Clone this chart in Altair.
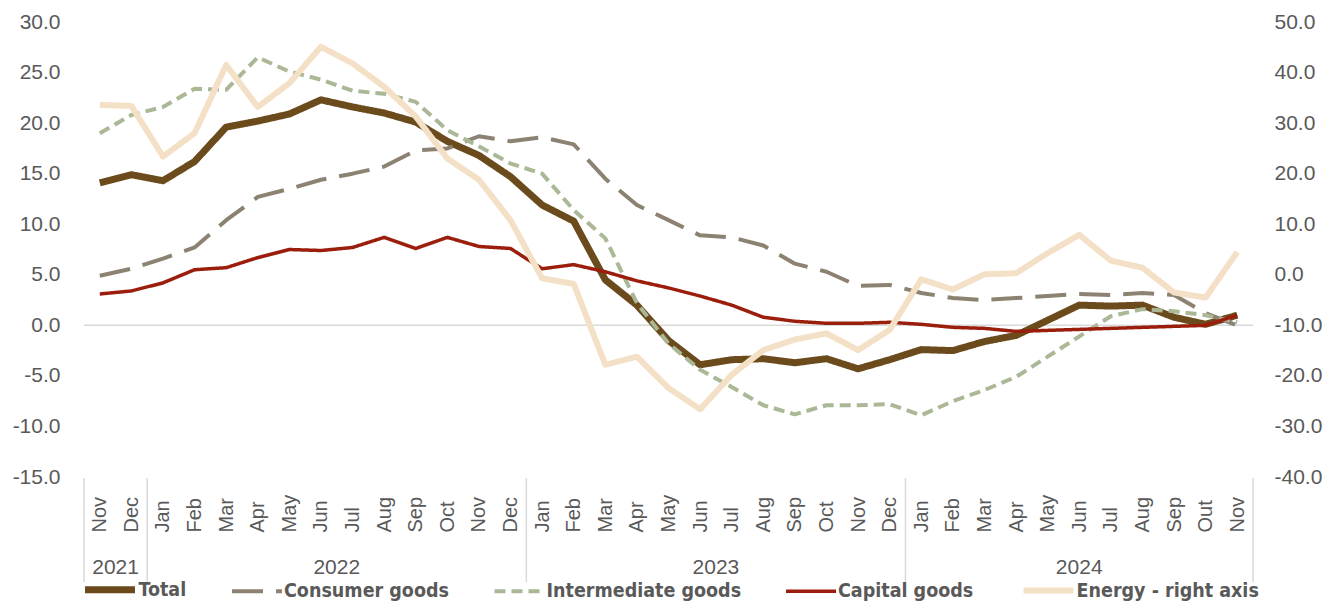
import altair as alt
import pandas as pd

months = ["Nov", "Dec",
          "Jan", "Feb", "Mar", "Apr", "May", "Jun", "Jul", "Aug", "Sep", "Oct", "Nov", "Dec",
          "Jan", "Feb", "Mar", "Apr", "May", "Jun", "Jul", "Aug", "Sep", "Oct", "Nov", "Dec",
          "Jan", "Feb", "Mar", "Apr", "May", "Jun", "Jul", "Aug", "Sep", "Out", "Nov"]
years = ["2021", "2022", "2023", "2024"]
year_centers = [0.5, 7.5, 19.5, 31.0]
year_bounds = [-0.5, 1.5, 13.5, 25.5, 36.5]

total = [14.1, 14.9, 14.3, 16.2, 19.6, 20.2, 20.9, 22.3, 21.6, 21.0, 20.1, 18.2, 16.8, 14.7,
         11.9, 10.3, 4.5, 2.0, -1.5, -3.9, -3.4, -3.3, -3.7, -3.3, -4.3, -3.4,
         -2.4, -2.5, -1.6, -1.0, 0.5, 2.0, 1.9, 2.0, 0.8, 0.1, 1.0]
consumer = [4.9, 5.6, 6.6, 7.7, 10.4, 12.7, 13.5, 14.4, 15.0, 15.7, 17.3, 17.5, 18.7, 18.2,
            18.6, 17.9, 14.5, 11.9, 10.4, 8.9, 8.7, 7.9, 6.1, 5.3, 3.9, 4.0,
            3.2, 2.7, 2.5, 2.7, 2.9, 3.1, 3.0, 3.2, 3.0, 1.2, 0.0]
intermediate = [19.0, 20.8, 21.6, 23.4, 23.3, 26.5, 25.1, 24.3, 23.2, 22.9, 22.1, 19.3, 17.7, 16.0,
                15.0, 11.4, 8.6, 2.2, -1.8, -4.4, -6.1, -7.9, -8.8, -7.9, -7.9, -7.8,
                -8.9, -7.5, -6.4, -5.1, -3.1, -1.1, 0.9, 1.6, 1.4, 1.0, 0.3]
capital = [3.1, 3.4, 4.2, 5.5, 5.7, 6.7, 7.5, 7.4, 7.7, 8.7, 7.6, 8.7, 7.8, 7.6,
           5.6, 6.0, 5.3, 4.4, 3.7, 2.9, 2.0, 0.8, 0.4, 0.2, 0.2, 0.3,
           0.1, -0.2, -0.3, -0.6, -0.5, -0.4, -0.3, -0.2, -0.1, 0.0, 1.0]
energy = [33.6, 33.4, 23.4, 28.0, 41.5, 33.2, 37.9, 45.1, 41.8, 37.2, 31.3, 23.0, 18.8, 10.8,
          -0.7, -1.8, -17.8, -16.2, -22.4, -26.6, -19.8, -14.9, -12.8, -11.6, -14.9, -10.9,
          -0.9, -2.9, 0.1, 0.3, 4.3, 7.9, 2.8, 1.4, -3.5, -4.5, 4.5]

series_names = ["Total", "Consumer goods", "Intermediate goods", "Capital goods", "Energy - right axis"]
series_colors = ["#6B4A1C", "#8C8272", "#ABB896", "#9B1D0C", "#F4E0C6"]
series_dash = [[1, 0], [31, 13], [11, 6], [1, 0], [1, 0]]
series_width = [7, 4, 4, 3.5, 6]

W, H = 1169, 455
TXT = "#595959"
GRID = "#D9D9D9"
MINUS = "\u2212"
LEG_FONT = "Liberation Sans Narrow, DejaVu Sans Condensed, Arial Narrow, sans-serif"

rows = []
for name, vals in zip(series_names[:4], [total, consumer, intermediate, capital]):
    for i, v in enumerate(vals):
        rows.append({"idx": i, "series": name, "value": v})
left_df = pd.DataFrame(rows)
energy_df = pd.DataFrame({"idx": list(range(len(energy))), "series": series_names[4], "value": energy})
year_df = pd.DataFrame({"idx": year_centers, "year": years})
bound_df = pd.DataFrame({"idx": year_bounds})

label_expr = "[" + ",".join("'%s'" % m for m in months) + "][datum.value]"

xscale = alt.Scale(domain=[-0.5, len(months) - 0.5], nice=False, zero=False)
x_axis = alt.Axis(values=list(range(len(months))), labelExpr=label_expr, labelAngle=270,
                  labelAlign="left", labelBaseline="middle", labelPadding=55, labelFontSize=20,
                  labelColor=TXT, labelFont="Liberation Sans", domain=False, ticks=False, tickSize=0,
                  grid=False, labelOverlap=False, labelFlush=False, labelBound=False, title=None)

color_scale = alt.Scale(domain=series_names, range=series_colors)
dash_scale = alt.Scale(domain=series_names, range=series_dash)
width_scale = alt.Scale(type="ordinal", domain=series_names, range=series_width)

legend = alt.Legend(orient="none", legendX=-2.5, legendY=539, direction="horizontal", title=None,
                    symbolType="stroke", symbolSize=2500, labelFont=LEG_FONT,
                    labelFontWeight="bold", labelFontSize=19.5, labelColor=TXT, labelOffset=0,
                    labelLimit=0, columnPadding=37.5, padding=0)

enc_common = dict(
    color=alt.Color("series:N", scale=color_scale, legend=legend, sort=series_names),
    strokeDash=alt.StrokeDash("series:N", scale=dash_scale, legend=legend, sort=series_names),
    strokeWidth=alt.StrokeWidth("series:N", scale=width_scale, legend=legend, sort=series_names),
)

left_scale = alt.Scale(domain=[-15, 30], nice=False)
left_axis = alt.Axis(values=list(range(-15, 31, 5)), labelExpr="replace(format(datum.value, '.1f'), '%s', '-')" % MINUS,
                     labelFontSize=21, labelColor=TXT, labelFont="Liberation Sans", labelPadding=24,
                     domain=False, ticks=False, grid=False, title=None)
right_axis = alt.Axis(orient="right", values=list(range(-40, 51, 10)),
                      labelExpr="replace(format(datum.value, '.1f'), '%s', '-')" % MINUS,
                      labelFontSize=21, labelColor=TXT, labelFont="Liberation Sans", labelPadding=21,
                      domain=False, ticks=False, grid=False, title=None)

zero_line = alt.Chart(pd.DataFrame({"v": [0]})).mark_rule(color=GRID, strokeWidth=1.5).encode(
    y=alt.Y("v:Q", scale=left_scale, axis=left_axis),
    x=alt.value(0), x2=alt.value(W))

separators = alt.Chart(bound_df).mark_rule(color=GRID, strokeWidth=1.5).encode(
    x=alt.X("idx:Q", scale=xscale, axis=x_axis),
    y=alt.value(H + 1), y2=alt.value(H + 105))

year_text = alt.Chart(year_df).mark_text(fontSize=21, color=TXT, font="Liberation Sans",
                                         baseline="middle", align="center").encode(
    x=alt.X("idx:Q", scale=xscale, axis=x_axis), y=alt.value(546), text="year:N")

left_lines = alt.Chart(left_df).mark_line(strokeCap="butt", strokeJoin="round").encode(
    x=alt.X("idx:Q", scale=xscale, axis=x_axis),
    y=alt.Y("value:Q", scale=left_scale, axis=left_axis),
    order=alt.Order("idx:Q"),
    **enc_common)

left = alt.layer(zero_line, separators, year_text, left_lines)

right_line = alt.Chart(energy_df).mark_line(strokeCap="butt", strokeJoin="round").encode(
    x=alt.X("idx:Q", scale=xscale, axis=x_axis),
    y=alt.Y("value:Q", scale=alt.Scale(domain=[-40, 50], nice=False), axis=right_axis),
    order=alt.Order("idx:Q"),
    **enc_common)

chart = alt.layer(left, right_line).resolve_scale(y="independent").properties(
    width=W, height=H,
    autosize=alt.AutoSizeParams(type="none"),
    padding={"left": 76, "top": 14, "right": 80, "bottom": 126},
).configure(background="white").configure_view(strokeWidth=0)

chart.save("out.html", embed_options={"renderer": "svg", "actions": False})
